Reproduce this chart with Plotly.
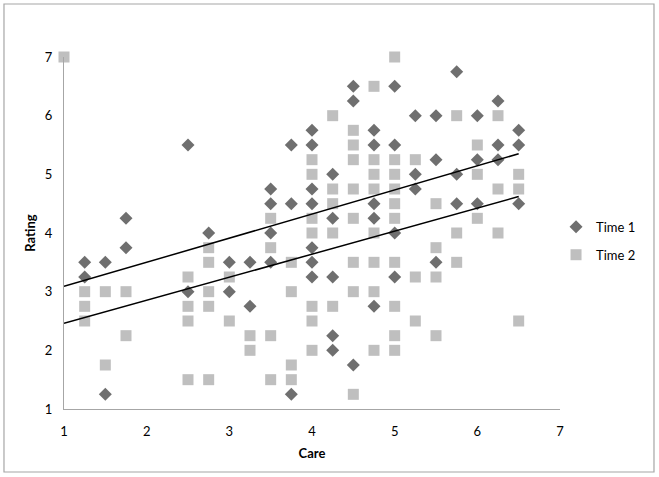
import numpy as np
import plotly.graph_objects as go

# Time 1 (diamonds)
t1_care = [1.25, 1.25, 1.5, 1.5, 1.75, 1.75, 2.5, 2.5, 2.75, 3, 3, 3.25, 3.25,
           3.5, 3.5, 3.5, 3.5, 3.75, 3.75, 3.75, 4, 4, 4, 4, 4, 4, 4,
           4.25, 4.25, 4.25, 4.25, 4.25, 4.5, 4.5, 4.5, 4.75, 4.75, 4.75, 4.75, 4.75,
           5, 5, 5, 5, 5.25, 5.25, 5.25, 5.5, 5.5, 5.5, 5.75, 5.75, 5.75,
           6, 6, 6, 6.25, 6.25, 6.25, 6.5, 6.5, 6.5]
t1_rating = [3.5, 3.25, 3.5, 1.25, 4.25, 3.75, 5.5, 3.0, 4.0, 3.5, 3.0, 3.5, 2.75,
             4.75, 4.5, 4.0, 3.5, 5.5, 4.5, 1.25, 5.75, 5.5, 4.75, 4.5, 3.75, 3.5, 3.25,
             5.0, 4.25, 3.25, 2.25, 2.0, 6.5, 6.25, 1.75, 5.75, 5.5, 4.5, 4.25, 2.75,
             6.5, 5.5, 4.0, 3.25, 6.0, 5.0, 4.75, 6.0, 5.25, 3.5, 6.75, 5.0, 4.5,
             6.0, 5.25, 4.5, 6.25, 5.5, 5.25, 5.75, 5.5, 4.5]

# Time 2 (squares)
t2_care = [1, 1.25, 1.25, 1.25, 1.5, 1.5, 1.75, 1.75, 2.5, 2.5, 2.5, 2.5,
           2.75, 2.75, 2.75, 2.75, 2.75, 3, 3, 3.25, 3.25, 3.5, 3.5, 3.5, 3.5,
           3.75, 3.75, 3.75, 3.75, 4, 4, 4, 4, 4, 4, 4,
           4.25, 4.25, 4.25, 4.25, 4.25, 4.5, 4.5, 4.5, 4.5, 4.5, 4.5, 4.5, 4.5,
           4.75, 4.75, 4.75, 4.75, 4.75, 4.75, 4.75, 4.75,
           5, 5, 5, 5, 5, 5, 5, 5, 5, 5, 5.25, 5.25, 5.25,
           5.5, 5.5, 5.5, 5.5, 5.75, 5.75, 5.75, 6, 6, 6, 6.25, 6.25, 6.25,
           6.5, 6.5, 6.5]
t2_rating = [7.0, 3.0, 2.75, 2.5, 3.0, 1.75, 3.0, 2.25, 3.25, 2.75, 2.5, 1.5,
             3.75, 3.5, 3.0, 2.75, 1.5, 3.25, 2.5, 2.25, 2.0, 4.25, 3.75, 2.25, 1.5,
             3.5, 3.0, 1.75, 1.5, 5.25, 5.0, 4.25, 4.0, 2.75, 2.5, 2.0,
             6.0, 4.75, 4.5, 4.0, 2.75, 5.75, 5.5, 5.25, 4.75, 4.25, 3.5, 3.0, 1.25,
             6.5, 5.25, 5.0, 4.75, 4.0, 3.5, 3.0, 2.0,
             7.0, 5.25, 5.0, 4.75, 4.5, 4.25, 3.5, 2.75, 2.25, 2.0, 5.25, 3.25, 2.5,
             4.5, 3.75, 3.25, 2.25, 6.0, 4.0, 3.5, 5.5, 5.0, 4.25, 6.0, 4.75, 4.0,
             5.0, 4.75, 2.5]

# linear trendlines (slope, intercept); some points overlap
# in the picture so a refit of the visible points does not reproduce them
trend_slope = [0.411, 0.393]
trend_icpt = [2.679, 2.067]

FONT = "Lato, Open Sans, sans-serif"

fig = go.Figure()

fig.add_trace(go.Scatter(x=t1_care, y=t1_rating, mode="markers", name="Time 1",
                         legendgroup="t1", cliponaxis=False,
                         marker=dict(symbol="diamond", size=10, color="#6f6f6f")))
fig.add_trace(go.Scatter(x=t2_care, y=t2_rating, mode="markers", name="Time 2",
                         legendgroup="t2", cliponaxis=False,
                         marker=dict(symbol="square", size=11, color="#bfbfbf")))

# trendlines span the full data range on x
lx = np.array([min(t1_care + t2_care), max(t1_care + t2_care)])
for slope, icpt in zip(trend_slope, trend_icpt):
    fig.add_trace(go.Scatter(x=lx, y=slope * lx + icpt, mode="lines", showlegend=False,
                             hoverinfo="skip", line=dict(color="black", width=1.5)))

fig.update_layout(
    width=659, height=477,
    margin=dict(l=64, r=99, t=57, b=68, autoexpand=False),
    paper_bgcolor="white", plot_bgcolor="white",
    font=dict(family=FONT, size=13, color="black"),
    legend=dict(x=0.992, y=0.56, xanchor="left", yanchor="top",
                traceorder="grouped", tracegroupgap=8,
                font=dict(size=13), itemwidth=30),
    shapes=[dict(type="rect", xref="paper", yref="paper",
                 x0=-0.121, x1=1.1895, y0=-0.179, y1=1.1506,
                 line=dict(color="#a6a6a6", width=1.2))],
)
fig.update_xaxes(range=[1, 7], dtick=1, showgrid=False, zeroline=False,
                 showline=True, linecolor="#a6a6a6", linewidth=1.2,
                 ticks="", ticklabelstandoff=10,
                 title=dict(text="<b>Care</b>", standoff=11, font=dict(size=13)))
fig.update_yaxes(range=[1, 7], dtick=1, showgrid=False, zeroline=False,
                 showline=True, linecolor="#a6a6a6", linewidth=1.2,
                 ticks="", ticklabelstandoff=8,
                 title=dict(text="<b>Rating</b>", standoff=6, font=dict(size=13)))

fig.write_html("out.html", config={"displayModeBar": False},
               post_script="document.body.style.margin='0';")
